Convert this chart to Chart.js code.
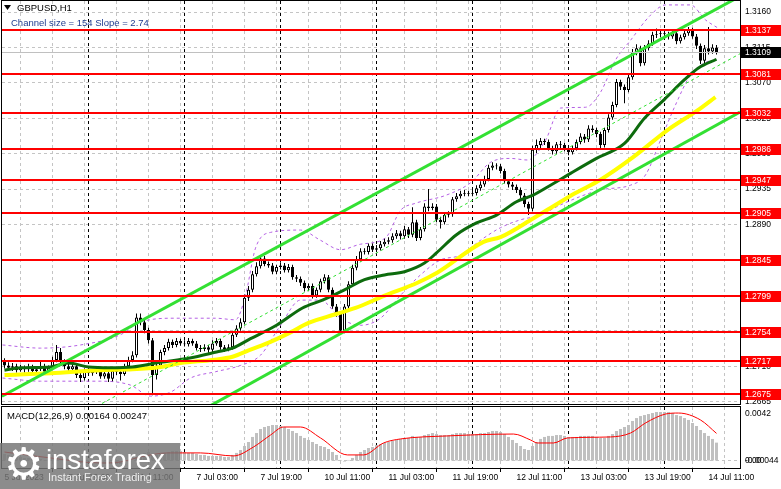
<!DOCTYPE html>
<html>
<head>
<meta charset="utf-8">
<script src="https://cdn.jsdelivr.net/npm/chart.js@4.4.0/dist/chart.umd.min.js"></script>
<style>
  html, body { margin: 0; padding: 0; background: #fff; }
  #wrap { position: relative; width: 781px; height: 489px; overflow: hidden; }
  #priceBox { position: absolute; left: 0; top: 0; width: 781px; height: 406px; }
  #macdBox { position: absolute; left: 0; top: 406px; width: 781px; height: 83px; }
  #wm { position: absolute; left: 0; top: 443px; width: 180px; height: 46px; background: rgba(118,118,118,0.84);
        color: #fff; font-family: 'Liberation Sans', Arial, sans-serif; overflow: hidden; }
  #wm .gear { position: absolute; left: 4px; top: -3px; font-size: 44px; line-height: 48px; font-family: 'DejaVu Sans', sans-serif; }
  #wm .brand { position: absolute; left: 46px; top: 3px; font-size: 28px; line-height: 28px; letter-spacing: -0.3px; }
  #wm .slogan { position: absolute; left: 48px; top: 28px; font-size: 11px; line-height: 13px; color: #eee; }
</style>
</head>
<body>
<div id="wrap">
  <div id="priceBox"><canvas id="priceChart"></canvas></div>
  <div id="macdBox"><canvas id="macdChart"></canvas></div>
  <div id="wm"><div class="gear">&#9881;</div><div class="brand">instaforex</div><div class="slogan">Instant Forex Trading</div></div>
</div>
<script>
// GBPUSD H1, one bar per hour from 5 Jul 03:00 to 14 Jul 13:00
const tickLabels = ['5 Jul 2023', '5 Jul 19:00', '6 Jul 11:00', '7 Jul 03:00', '7 Jul 19:00', '10 Jul 11:00',
  '11 Jul 03:00', '11 Jul 19:00', '12 Jul 11:00', '13 Jul 03:00', '13 Jul 19:00', '14 Jul 11:00'];
const gridBars = [0, 8, 16, 24, 32, 40, 48, 56, 64, 72, 80, 88, 96, 104, 112, 120, 128, 136, 144, 152, 160, 168, 176];
const daySeparators = [21, 45, 69, 93, 117, 141, 165];
const priceTicks = [1.2665, 1.2710, 1.2755, 1.2800, 1.2845, 1.2890, 1.2935, 1.2980, 1.3025, 1.3070, 1.3115, 1.3160];
const levels = [1.3137, 1.3081, 1.3032, 1.2986, 1.2947, 1.2905, 1.2845, 1.2799, 1.2754, 1.2717, 1.2675];
const lastPrice = 1.3109;

const opens = [1.2717,1.2711,1.2708,1.2710,1.2705,1.2708,1.2706,1.2709,1.2704,1.2706,
  1.2710,1.2703,1.2708,1.2718,1.2728,1.2715,1.2710,1.2706,1.2710,1.2699,
  1.2695,1.2703,1.2701,1.2703,1.2705,1.2697,1.2701,1.2694,1.2704,1.2703,
  1.2700,1.2710,1.2718,1.2724,1.2772,1.2766,1.2756,1.2743,1.2699,1.2711,
  1.2728,1.2733,1.2741,1.2737,1.2742,1.2739,1.2738,1.2742,1.2739,1.2733,
  1.2732,1.2734,1.2731,1.2739,1.2742,1.2734,1.2732,1.2734,1.2750,1.2758,
  1.2766,1.2797,1.2807,1.2827,1.2837,1.2847,1.2840,1.2838,1.2830,1.2836,
  1.2838,1.2832,1.2836,1.2823,1.2821,1.2816,1.2809,1.2812,1.2800,1.2807,
  1.2818,1.2823,1.2807,1.2786,1.2777,1.2755,1.2786,1.2814,1.2835,1.2846,
  1.2856,1.2855,1.2863,1.2858,1.2860,1.2865,1.2868,1.2870,1.2875,1.2879,
  1.2875,1.2884,1.2877,1.2893,1.2873,1.2884,1.2913,1.2911,1.2913,1.2896,
  1.2893,1.2902,1.2903,1.2922,1.2926,1.2929,1.2930,1.2929,1.2930,1.2936,
  1.2941,1.2948,1.2962,1.2965,1.2964,1.2958,1.2945,1.2941,1.2938,1.2934,
  1.2927,1.2916,1.2910,1.2985,1.2991,1.2996,1.2995,1.2987,1.2983,1.2992,
  1.2991,1.2986,1.2982,1.2987,1.2995,1.3002,1.2998,1.3012,1.3010,1.3005,
  1.2991,1.3010,1.3026,1.3042,1.3071,1.3065,1.3061,1.3077,1.3109,1.3114,
  1.3095,1.3114,1.3120,1.3131,1.3132,1.3133,1.3132,1.3129,1.3133,1.3123,
  1.3128,1.3133,1.3137,1.3129,1.3117,1.3098,1.3114,1.3110,1.3115];
const highs = [1.2720,1.2715,1.2714,1.2713,1.2712,1.2711,1.2713,1.2712,1.2710,1.2716,
  1.2713,1.2711,1.2722,1.2737,1.2733,1.2719,1.2714,1.2713,1.2713,1.2703,
  1.2707,1.2706,1.2706,1.2709,1.2708,1.2705,1.2704,1.2707,1.2708,1.2706,
  1.2713,1.2722,1.2729,1.2777,1.2777,1.2769,1.2759,1.2746,1.2714,1.2731,
  1.2737,1.2745,1.2744,1.2746,1.2745,1.2743,1.2746,1.2745,1.2742,1.2737,
  1.2738,1.2737,1.2743,1.2746,1.2745,1.2737,1.2738,1.2754,1.2762,1.2771,
  1.2801,1.2812,1.2831,1.2842,1.2851,1.2850,1.2843,1.2841,1.2839,1.2842,
  1.2841,1.2840,1.2839,1.2826,1.2824,1.2819,1.2815,1.2815,1.2810,1.2821,
  1.2827,1.2826,1.2810,1.2789,1.2780,1.2789,1.2818,1.2839,1.2850,1.2860,
  1.2860,1.2866,1.2866,1.2864,1.2869,1.2872,1.2874,1.2879,1.2883,1.2882,
  1.2888,1.2887,1.2912,1.2896,1.2887,1.2917,1.2935,1.2917,1.2916,1.2900,
  1.2905,1.2907,1.2925,1.2930,1.2933,1.2934,1.2933,1.2934,1.2940,1.2945,
  1.2952,1.2966,1.2969,1.2968,1.2967,1.2961,1.2948,1.2944,1.2941,1.2937,
  1.2930,1.2919,1.2990,1.2998,1.3000,1.2999,1.2998,1.2990,1.2995,1.2996,
  1.2994,1.2989,1.2990,1.2998,1.3006,1.3005,1.3016,1.3016,1.3013,1.3008,
  1.3013,1.3030,1.3046,1.3075,1.3074,1.3068,1.3080,1.3113,1.3119,1.3117,
  1.3118,1.3124,1.3135,1.3139,1.3137,1.3136,1.3135,1.3137,1.3136,1.3131,
  1.3137,1.3141,1.3140,1.3132,1.3120,1.3118,1.3141,1.3119,1.3118];
const lows = [1.2707,1.2705,1.2704,1.2702,1.2703,1.2702,1.2703,1.2700,1.2701,1.2704,
  1.2699,1.2700,1.2705,1.2715,1.2712,1.2706,1.2702,1.2703,1.2695,1.2690,
  1.2692,1.2698,1.2698,1.2700,1.2694,1.2694,1.2690,1.2691,1.2699,1.2692,
  1.2698,1.2707,1.2715,1.2721,1.2762,1.2752,1.2739,1.2673,1.2693,1.2708,
  1.2724,1.2730,1.2733,1.2734,1.2736,1.2735,1.2735,1.2736,1.2730,1.2728,
  1.2729,1.2727,1.2728,1.2736,1.2731,1.2728,1.2729,1.2731,1.2747,1.2755,
  1.2763,1.2793,1.2804,1.2824,1.2834,1.2837,1.2835,1.2827,1.2827,1.2833,
  1.2829,1.2829,1.2820,1.2817,1.2812,1.2805,1.2806,1.2796,1.2797,1.2804,
  1.2815,1.2804,1.2783,1.2773,1.2750,1.2752,1.2783,1.2811,1.2832,1.2843,
  1.2852,1.2852,1.2855,1.2855,1.2857,1.2862,1.2865,1.2867,1.2872,1.2871,
  1.2872,1.2873,1.2874,1.2869,1.2870,1.2881,1.2907,1.2908,1.2893,1.2885,
  1.2890,1.2899,1.2900,1.2919,1.2923,1.2926,1.2926,1.2926,1.2927,1.2933,
  1.2938,1.2945,1.2959,1.2960,1.2955,1.2942,1.2937,1.2934,1.2930,1.2923,
  1.2912,1.2902,1.2907,1.2981,1.2987,1.2991,1.2984,1.2979,1.2980,1.2987,
  1.2983,1.2978,1.2979,1.2984,1.2992,1.2994,1.2995,1.3007,1.3001,1.2985,
  1.2988,1.3007,1.3023,1.3039,1.3061,1.3044,1.3058,1.3074,1.3105,1.3091,
  1.3092,1.3111,1.3117,1.3127,1.3128,1.3128,1.3125,1.3126,1.3119,1.3120,
  1.3125,1.3130,1.3126,1.3113,1.3094,1.3095,1.3106,1.3107,1.3106];
const closes = [1.2711,1.2708,1.2710,1.2705,1.2708,1.2706,1.2709,1.2704,1.2706,1.2710,
  1.2703,1.2708,1.2718,1.2728,1.2715,1.2710,1.2706,1.2710,1.2699,1.2695,
  1.2703,1.2701,1.2703,1.2705,1.2697,1.2701,1.2694,1.2704,1.2703,1.2700,
  1.2710,1.2718,1.2724,1.2772,1.2766,1.2756,1.2743,1.2699,1.2711,1.2728,
  1.2733,1.2741,1.2737,1.2742,1.2739,1.2738,1.2742,1.2739,1.2733,1.2732,
  1.2734,1.2731,1.2739,1.2742,1.2734,1.2732,1.2734,1.2750,1.2758,1.2766,
  1.2797,1.2807,1.2827,1.2837,1.2847,1.2840,1.2838,1.2830,1.2836,1.2838,
  1.2832,1.2836,1.2823,1.2821,1.2816,1.2809,1.2812,1.2800,1.2807,1.2818,
  1.2823,1.2807,1.2786,1.2777,1.2755,1.2786,1.2814,1.2835,1.2846,1.2856,
  1.2855,1.2863,1.2858,1.2860,1.2865,1.2868,1.2870,1.2875,1.2879,1.2875,
  1.2884,1.2877,1.2893,1.2873,1.2884,1.2913,1.2911,1.2913,1.2896,1.2893,
  1.2902,1.2903,1.2922,1.2926,1.2929,1.2930,1.2929,1.2930,1.2936,1.2941,
  1.2948,1.2962,1.2965,1.2964,1.2958,1.2945,1.2941,1.2938,1.2934,1.2927,
  1.2916,1.2910,1.2985,1.2991,1.2996,1.2995,1.2987,1.2983,1.2992,1.2991,
  1.2986,1.2982,1.2987,1.2995,1.3002,1.2998,1.3012,1.3010,1.3005,1.2991,
  1.3010,1.3026,1.3042,1.3071,1.3065,1.3061,1.3077,1.3109,1.3114,1.3095,
  1.3114,1.3120,1.3131,1.3132,1.3133,1.3132,1.3129,1.3133,1.3123,1.3128,
  1.3133,1.3137,1.3129,1.3117,1.3098,1.3114,1.3110,1.3115,1.3109];

// indicator lines as [bar, price]
const greenMa = [[0,1.2705],[4,1.2708],[11.5,1.2709],[16,1.2714],[21,1.2709],[26.5,1.2708],[32,1.2709],[39,1.2715],
  [46,1.2720],[53,1.2728],[57,1.2733],[61.5,1.2745],[68,1.2762],[74.5,1.2784],[79.5,1.2794],[85,1.2807],[90,1.2820],
  [95,1.2826],[100,1.2830],[105,1.2841],[108,1.2854],[113,1.2877],[118,1.2892],[123,1.2902],[128,1.2919],[132,1.2927],
  [136.5,1.2940],[141.5,1.2955],[148,1.2974],[155,1.2993],[160,1.3025],[165,1.3049],[170,1.3074],[173.5,1.3089],[178,1.3100]];
const yellowMa = [[0,1.2699],[11.5,1.2701],[24,1.2705],[32,1.2706],[39,1.2709],[44,1.2714],[52,1.2718],[57,1.2722],
  [61.5,1.2731],[66.5,1.2741],[71.5,1.2753],[76,1.2765],[82.75,1.2776],[87.75,1.2784],[94.75,1.2799],[103.25,1.2816],
  [108.25,1.2829],[119.75,1.2868],[124,1.2874],[132.25,1.2898],[136.5,1.2911],[142.75,1.2930],[149,1.2947],
  [157.25,1.2976],[165.75,1.3010],[173.25,1.3035],[177.75,1.3052]];
const bandUpper = [[-0.5,1.2737],[9,1.2733],[19,1.2737],[29,1.2750],[34,1.2766],[42.75,1.2771],[52.75,1.2771],[57.75,1.2769],
  [60.25,1.2800],[62.75,1.2860],[66.5,1.2880],[74,1.2883],[79,1.2870],[84,1.2858],[89,1.2865],[95.25,1.2873],[99,1.2908],
  [102.75,1.2917],[110.25,1.2927],[116.5,1.2943],[121.5,1.2969],[126.5,1.2974],[130.75,1.2972],[135.25,1.2997],[139,1.3038],
  [145.25,1.3039],[149,1.3058],[152.75,1.3099],[156.5,1.3124],[161.5,1.3156],[165.25,1.3169],[171.5,1.3169],[175.25,1.3150],[178.25,1.3140]];
const bandLower = [[-0.5,1.2695],[9,1.2691],[24,1.2691],[31.5,1.2686],[36.5,1.2672],[41.5,1.2677],[46.5,1.2695],[52.75,1.2703],
  [59,1.2711],[64,1.2724],[69,1.2762],[74,1.2794],[79,1.2794],[84,1.2771],[89,1.2762],[94,1.2771],[99,1.2800],[104,1.2826],
  [109,1.2845],[114,1.2851],[119,1.2870],[124,1.2886],[129,1.2896],[134,1.2902],[139,1.2915],[149,1.2934],[156.5,1.2940],
  [160.25,1.2953],[164,1.2997],[167.75,1.3042],[171.5,1.3080],[175.25,1.3096],[178.25,1.3099]];
const channelUpper = [[-0.625,1.2672],[183.875,1.3180]];
const channelMiddle = [[-0.625,1.2593],[183.875,1.3107]];
const channelLower = [[-0.625,1.2513],[183.875,1.3033]];

const macd = [0.00063,0.00054,0.00045,0.00036,0.00036,0.00027,0.00027,0.00018,0.00018,0.00018,
  0.00009,0.00009,0.00018,0.00027,0.00018,0.00009,0.00000,0.00000,-0.00009,-0.00018,
  -0.00018,-0.00018,-0.00018,-0.00018,-0.00027,-0.00027,-0.00027,-0.00027,-0.00027,-0.00027,
  -0.00018,-0.00009,0.00000,0.00036,0.00063,0.00072,0.00080,0.00054,0.00054,0.00063,
  0.00072,0.00080,0.00089,0.00089,0.00089,0.00080,0.00072,0.00072,0.00063,0.00054,
  0.00054,0.00045,0.00045,0.00045,0.00045,0.00036,0.00036,0.00054,0.00072,0.00098,
  0.00134,0.00170,0.00215,0.00250,0.00286,0.00304,0.00313,0.00322,0.00322,0.00313,
  0.00304,0.00286,0.00268,0.00250,0.00224,0.00206,0.00188,0.00170,0.00152,0.00134,
  0.00125,0.00107,0.00080,0.00054,0.00009,-0.00009,0.00009,0.00027,0.00054,0.00080,
  0.00098,0.00116,0.00125,0.00143,0.00152,0.00161,0.00170,0.00179,0.00188,0.00197,
  0.00206,0.00206,0.00224,0.00215,0.00215,0.00232,0.00241,0.00250,0.00241,0.00232,
  0.00232,0.00232,0.00241,0.00250,0.00250,0.00250,0.00241,0.00241,0.00241,0.00250,
  0.00250,0.00259,0.00268,0.00268,0.00259,0.00241,0.00215,0.00188,0.00161,0.00134,
  0.00107,0.00098,0.00134,0.00170,0.00197,0.00215,0.00224,0.00224,0.00232,0.00232,
  0.00224,0.00215,0.00215,0.00215,0.00224,0.00224,0.00224,0.00224,0.00215,0.00206,
  0.00206,0.00224,0.00241,0.00268,0.00286,0.00304,0.00322,0.00358,0.00384,0.00402,
  0.00411,0.00420,0.00429,0.00438,0.00438,0.00438,0.00438,0.00429,0.00411,0.00402,
  0.00384,0.00367,0.00340,0.00313,0.00277,0.00250,0.00224,0.00197,0.00164];
const macdSignal = [[0,0.00080],[11.5,0.00027],[24,-0.00018],[29,-0.00009],[34,0.00036],[40.75,0.00072],[49,0.00072],
  [57.25,0.00045],[62.25,0.00125],[66.5,0.00232],[69.75,0.00304],[74,0.00304],[79,0.00206],[85.75,0.00054],[89.75,0.00054],
  [94.75,0.00161],[99,0.00197],[110.75,0.00224],[127.25,0.00241],[131.5,0.00188],[133.25,0.00161],[137.25,0.00161],
  [140.75,0.00206],[151.5,0.00215],[156.5,0.00250],[160.25,0.00340],[165.25,0.00420],[168.5,0.00429],[174,0.00367],[178,0.00247]];
const macdTicks = [0, 0, 0.0042];
const macdTickLabels = ['0.00', '-0.00044', '0.0042'];

const X_MIN = -0.625, X_MAX = 183.875;
const FONT = "'Liberation Sans', Arial, sans-serif";
Chart.defaults.font.family = FONT;
Chart.defaults.color = '#000';

const toXY = pairs => pairs.map(p => ({x: p[0], y: p[1]}));

function xScale(showLabels) {
  return {
    type: 'linear', min: X_MIN, max: X_MAX, offset: false,
    afterBuildTicks: ax => { ax.ticks = gridBars.map(v => ({value: v})); },
    ticks: {
      display: showLabels, autoSkip: false, maxRotation: 0, minRotation: 0, align: 'start', padding: 1,
      font: {size: 8.5}, color: '#000',
      callback: v => (v % 16 === 0 ? tickLabels[v / 16] : '')
    },
    grid: {
      color: '#c4c4c4', drawTicks: showLabels, tickLength: 4,
      tickColor: c => (c.tick && c.tick.value % 16 === 0 ? '#000' : 'rgba(0,0,0,0)')
    },
    border: {display: false, dash: [3, 3]},
    afterFit: ax => { ax.height = showLabels ? 21 : 0; ax.paddingLeft = 0; ax.paddingRight = 0; }
  };
}

function yFit(ax) {
  ax.width = 41;
  ax.paddingTop = 0;
  ax.paddingBottom = 0;
}

function drawSeparators(chart) {
  const {ctx, chartArea: a, scales: {x}} = chart;
  ctx.save();
  ctx.strokeStyle = '#000';
  ctx.lineWidth = 1;
  ctx.setLineDash([3, 3]);
  daySeparators.forEach(i => {
    const px = Math.floor(x.getPixelForValue(i)) + 0.5;
    ctx.beginPath();
    ctx.moveTo(px, a.top);
    ctx.lineTo(px, a.bottom);
    ctx.stroke();
  });
  ctx.restore();
}

function drawFrame(chart) {
  const {ctx, chartArea: a} = chart;
  ctx.save();
  ctx.strokeStyle = '#000';
  ctx.lineWidth = 1;
  ctx.strokeRect(Math.floor(a.left) - 0.5, Math.floor(a.top) - 0.5, Math.round(a.right - a.left) + 1, Math.round(a.bottom - a.top) + 1);
  ctx.restore();
}

function priceTag(ctx, y, bg, text) {
  const top = Math.round(y) - 5;
  ctx.fillStyle = bg;
  ctx.fillRect(741, top, 40, 11);
  ctx.fillStyle = '#fff';
  ctx.font = '8.5px ' + FONT;
  ctx.textBaseline = 'middle';
  ctx.textAlign = 'left';
  ctx.fillText(text, 745, top + 6);
}

const priceDecor = {
  id: 'priceDecor',
  beforeDatasetsDraw(chart) { drawSeparators(chart); },
  afterDatasetsDraw(chart) {
    const {ctx, chartArea: a, scales: {y}} = chart;
    ctx.save();
    ctx.fillStyle = '#c0c0c0';
    ctx.fillRect(a.left, Math.round(y.getPixelForValue(lastPrice)), a.right - a.left, 1);
    ctx.fillStyle = '#ff0000';
    levels.forEach(l => {
      ctx.fillRect(a.left, Math.round(y.getPixelForValue(l)) - 1, a.right - a.left, 2);
    });
    ctx.restore();
  },
  afterDraw(chart) {
    const {ctx, scales: {y}} = chart;
    drawFrame(chart);
    ctx.save();
    levels.forEach(l => priceTag(ctx, y.getPixelForValue(l), '#ff0000', l.toFixed(4)));
    priceTag(ctx, y.getPixelForValue(lastPrice), '#000', lastPrice.toFixed(4));
    // title
    ctx.fillStyle = '#000';
    ctx.beginPath();
    ctx.moveTo(4, 5); ctx.lineTo(11, 5); ctx.lineTo(7.5, 10); ctx.closePath(); ctx.fill();
    ctx.font = '9.5px ' + FONT;
    ctx.textBaseline = 'middle';
    ctx.fillText('GBPUSD,H1', 17, 8);
    ctx.fillStyle = '#1f3c8f';
    ctx.font = '9.5px ' + FONT;
    ctx.fillText('Channel size = 154 Slope = 2.74', 11, 23);
    ctx.restore();
  }
};

function lineSet(label, pairs, color, width, order, dash, smooth) {
  return {
    type: 'line', label, data: toXY(pairs), borderColor: color, borderWidth: width,
    borderDash: dash || [], pointRadius: 0, fill: false, order,
    tension: smooth ? 0.4 : 0, cubicInterpolationMode: smooth ? 'monotone' : 'default'
  };
}

new Chart(document.getElementById('priceChart'), {
  type: 'bar',
  data: {
    datasets: [
      lineSet('Upper band', bandUpper, '#b45fe4', 1, 10, [3, 3], true),
      lineSet('Lower band', bandLower, '#b45fe4', 1, 10, [3, 3], true),
      {
        label: 'Wicks', data: closes.map((c, i) => ({x: i, y: [lows[i], highs[i]]})),
        backgroundColor: '#000', barThickness: 1, grouped: false, order: 8, inflateAmount: 0
      },
      {
        label: 'Bodies', data: closes.map((c, i) => ({x: i, y: [opens[i], c]})),
        backgroundColor: closes.map((c, i) => (c >= opens[i] ? '#ffffff' : '#000000')),
        borderColor: '#000', borderWidth: 1, borderSkipped: false, barThickness: 3, grouped: false, order: 7, inflateAmount: 0
      },
      lineSet('MA slow', yellowMa, '#ffff00', 4, 6, null, true),
      lineSet('MA fast', greenMa, '#0d6b0d', 3, 5, null, true),
      lineSet('Channel middle', channelMiddle, '#33e033', 1, 4, [3, 3], false),
      lineSet('Channel upper', channelUpper, '#33e033', 3, 3, null, false),
      lineSet('Channel lower', channelLower, '#33e033', 3, 3, null, false)
    ]
  },
  options: {
    responsive: true, maintainAspectRatio: false, animation: false, devicePixelRatio: 1, events: [],
    layout: {padding: {left: 2, top: 1, right: 0, bottom: 2}},
    plugins: {legend: {display: false}, tooltip: {enabled: false}},
    scales: {
      x: xScale(false),
      y: {
        position: 'right', min: 1.2662, max: 1.3174,
        afterBuildTicks: ax => { ax.ticks = priceTicks.map(v => ({value: v})); },
        ticks: {font: {size: 8.5}, color: '#000', padding: 5, autoSkip: false, callback: v => v.toFixed(4)},
        grid: {color: '#c4c4c4', drawTicks: false},
        border: {display: false, dash: [3, 3]},
        afterFit: yFit
      }
    }
  },
  plugins: [priceDecor]
});

const macdDecor = {
  id: 'macdDecor',
  beforeDatasetsDraw(chart) { drawSeparators(chart); },
  afterDraw(chart) {
    const {ctx} = chart;
    drawFrame(chart);
    ctx.save();
    ctx.fillStyle = '#000';
    ctx.font = '9.5px ' + FONT;
    ctx.textBaseline = 'middle';
    ctx.fillText('MACD(12,26,9) 0.00164 0.00247', 7, 10);
    ctx.restore();
  }
};

new Chart(document.getElementById('macdChart'), {
  type: 'bar',
  data: {
    datasets: [
      {
        label: 'MACD', data: macd.map((v, i) => ({x: i, y: v})), backgroundColor: '#c0c0c0',
        barThickness: 3, grouped: false, order: 2, inflateAmount: 0
      },
      {
        type: 'line', label: 'Signal', data: toXY(macdSignal), borderColor: '#ff0000', borderWidth: 1,
        pointRadius: 0, fill: false, tension: 0.4, cubicInterpolationMode: 'monotone', order: 1
      }
    ]
  },
  options: {
    responsive: true, maintainAspectRatio: false, animation: false, devicePixelRatio: 1, events: [],
    layout: {padding: {left: 2, top: 1, right: 0, bottom: 0}},
    plugins: {legend: {display: false}, tooltip: {enabled: false}},
    scales: {
      x: xScale(true),
      y: {
        position: 'right', min: -0.00063, max: 0.00483,
        afterBuildTicks: ax => { ax.ticks = macdTicks.map(v => ({value: v})); },
        ticks: {font: {size: 8.5}, color: '#000', padding: 5, autoSkip: false, callback: (v, i) => macdTickLabels[i]},
        grid: {color: c => (c.tick && c.tick.value === 0 ? '#c4c4c4' : 'rgba(0,0,0,0)'), drawTicks: false},
        border: {display: false, dash: [3, 3]},
        afterFit: yFit
      }
    }
  },
  plugins: [macdDecor]
});
</script>
</body>
</html>
